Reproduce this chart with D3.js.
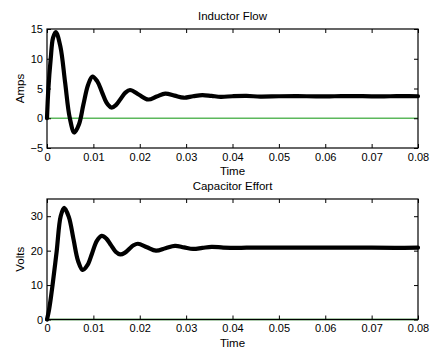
<!DOCTYPE html>
<html lang='en'>
<head>
<meta charset='utf8'>
<title>Inductor Flow / Capacitor Effort</title>
<script src="https://cdn.jsdelivr.net/npm/d3@7"></script>
<style>
  body { margin: 0; background: #fff; }
  svg text { font-family: "Liberation Sans", Arial, sans-serif; fill: #000; }
  .axis path, .axis line { stroke: #000; }
</style>
</head>
<body>
<svg id="chart" width="432" height="350"></svg>
<script>
// time axis ticks
var timeTicks = [0, 0.01, 0.02, 0.03, 0.04, 0.05, 0.06, 0.07, 0.08];

// inductor flow (Amps)
var indT = [0, 0.0003, 0.0008, 0.0013, 0.0019, 0.0029, 0.0039, 0.0049, 0.0059, 0.0069, 0.00785, 0.00885,
            0.0098, 0.01085, 0.01185, 0.01285, 0.0139, 0.0149, 0.0159, 0.0169, 0.0179, 0.01985, 0.0218,
            0.02365, 0.0255, 0.0275, 0.0295, 0.0315, 0.0335, 0.0355, 0.0375, 0.0400, 0.0430, 0.0460,
            0.0500, 0.0540, 0.0580, 0.0620, 0.0660, 0.0700, 0.0740, 0.0780, 0.0800];
var indI = [0, 5.0, 10.0, 13.5, 14.5, 12.0, 6.05, 0.1, -2.4, -1.0, 2.3, 5.6,
            7.0, 6.2, 4.4, 2.6, 1.8, 2.25, 3.28, 4.3, 4.75, 3.95, 3.15,
            3.65, 4.15, 3.8, 3.45, 3.7, 3.9, 3.75, 3.6, 3.7, 3.75, 3.65,
            3.7, 3.72, 3.68, 3.7, 3.73, 3.68, 3.7, 3.72, 3.7];

// capacitor effort (Volts)
var capT = [0, 0.0004, 0.0008, 0.0012, 0.0021, 0.00295, 0.0037, 0.0047, 0.0057, 0.0067, 0.0077, 0.00875,
            0.00975, 0.01075, 0.0118, 0.0128, 0.0138, 0.0148, 0.0158, 0.01675, 0.0177, 0.01865, 0.0196,
            0.02155, 0.0235, 0.02555, 0.0276, 0.02955, 0.0315, 0.0335, 0.0355, 0.0380, 0.0410, 0.0450,
            0.0500, 0.0550, 0.0600, 0.0650, 0.0700, 0.0750, 0.0800];
var capV = [0, 2.5, 6.0, 10.0, 20.0, 30.0, 32.4, 29.8, 23.4, 17.0, 14.4, 15.85,
            19.35, 22.85, 24.3, 23.5, 21.6, 19.7, 18.9, 19.35, 20.45, 21.55, 22.0,
            21.0, 20.0, 20.7, 21.4, 20.95, 20.5, 20.8, 21.1, 20.9, 20.8, 20.9,
            20.85, 20.85, 20.9, 20.85, 20.85, 20.8, 20.85];

var ampTicks = [-5, 0, 5, 10, 15];
var voltTicks = [0, 10, 20, 30];

var svg = d3.select('#chart');
var left = 47, right = 418;

var x = d3.scaleLinear().domain([0, 0.08]).range([left, right]);

function drawPanel(opts) {
    var y = d3.scaleLinear().domain(opts.domain).range([opts.bottom, opts.top]);
    var g = svg.append('g');

    // zero reference line
    g.append('line')
        .attr('x1', x(0)).attr('x2', x(0.08))
        .attr('y1', y(0)).attr('y2', y(0))
        .attr('stroke', opts.zeroColor)
        .attr('stroke-width', 1.3);

    var line = d3.line()
        .x(function(d, i) { return x(opts.t[i]); })
        .y(function(d) { return y(d); })
        .curve(d3.curveCatmullRom);

    g.append('path')
        .datum(opts.v)
        .attr('d', line)
        .attr('fill', 'none')
        .attr('stroke', '#000')
        .attr('stroke-width', 4.2)
        .attr('stroke-linejoin', 'round')
        .attr('stroke-linecap', 'round');

    // axes, ticks pointing inward like the original
    var fmt = function(d) { return d === 0 ? '0' : d3.format('.2f')(d); };
    g.append('g').attr('class', 'axis')
        .attr('transform', 'translate(0,' + opts.bottom + ')')
        .call(d3.axisBottom(x).tickValues(timeTicks).tickFormat(fmt).tickSizeInner(-4).tickSizeOuter(0).tickPadding(5));
    g.append('g').attr('class', 'axis')
        .attr('transform', 'translate(0,' + opts.top + ')')
        .call(d3.axisTop(x).tickValues(timeTicks).tickFormat('').tickSizeInner(-4).tickSizeOuter(0));
    g.append('g').attr('class', 'axis')
        .attr('transform', 'translate(' + left + ',0)')
        .call(d3.axisLeft(y).tickValues(opts.ticks).tickFormat(d3.format('d')).tickSizeInner(-4).tickSizeOuter(0).tickPadding(4));
    g.append('g').attr('class', 'axis')
        .attr('transform', 'translate(' + right + ',0)')
        .call(d3.axisRight(y).tickValues(opts.ticks).tickFormat('').tickSizeInner(-4).tickSizeOuter(0));

    g.selectAll('.axis text').style('font-size', '11px').style('font-family', '"Liberation Sans", Arial, sans-serif');
    g.selectAll('.axis path').remove();

    // box
    g.append('rect')
        .attr('x', left).attr('y', opts.top)
        .attr('width', right - left).attr('height', opts.bottom - opts.top)
        .attr('fill', 'none').attr('stroke', '#000').attr('stroke-width', 1.2);

    g.append('text')
        .attr('x', (left + right) / 2).attr('y', opts.top - 9)
        .attr('text-anchor', 'middle').style('font-size', '11.5px')
        .text(opts.title);
    g.append('text')
        .attr('x', (left + right) / 2).attr('y', opts.bottom + 27)
        .attr('text-anchor', 'middle').style('font-size', '11.5px')
        .text('Time');
    g.append('text')
        .attr('transform', 'translate(24,' + (opts.top + opts.bottom) / 2 + ') rotate(-90)')
        .attr('text-anchor', 'middle').style('font-size', '11.5px')
        .text(opts.ylabel);
}

drawPanel({ top: 29, bottom: 148, domain: [-5, 15], ticks: ampTicks, t: indT, v: indI,
            title: 'Inductor Flow', ylabel: 'Amps', zeroColor: '#5cb85c' });
drawPanel({ top: 199, bottom: 319.5, domain: [0, 35], ticks: voltTicks, t: capT, v: capV,
            title: 'Capacitor Effort', ylabel: 'Volts', zeroColor: '#008000' });
</script>
</body>
</html>
